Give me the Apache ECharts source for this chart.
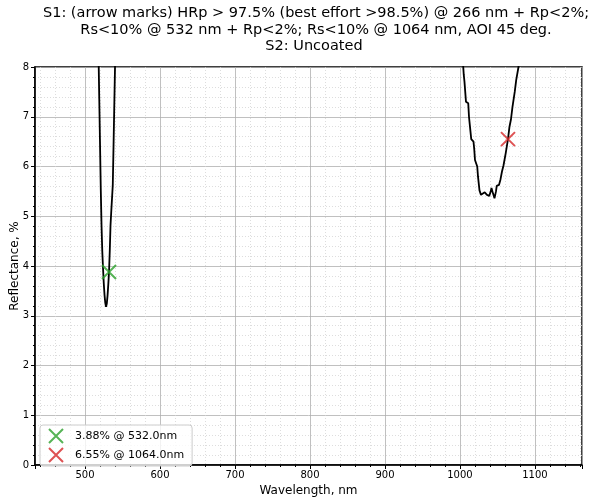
<!DOCTYPE html>
<html>
<head>
<meta charset="utf-8">
<script src="https://cdn.jsdelivr.net/npm/echarts@6/dist/echarts.min.js"></script>
<style>
  html, body { margin: 0; padding: 0; background: #fff; }
  #chart { width: 592px; height: 500px; }
</style>
</head>
<body>
<div id="chart"></div>
<script>
// wavelength (nm) / reflectance (%); values above 8 run off the top
const wavelength = [
  440, 480, 510, 515, 516, 517, 518, 519, 520, 521, 522, 523, 524, 525, 526, 527, 528,
  529, 530, 531, 532, 533, 534, 535, 536, 537, 538, 539, 540, 541, 542, 600, 800, 980,
  1000, 1002, 1004, 1005, 1006, 1008, 1011, 1012, 1014, 1015, 1018, 1019, 1020, 1022,
  1023, 1024, 1025, 1026, 1028, 1030, 1033, 1036, 1039, 1041, 1042, 1044, 1046, 1047,
  1048, 1049, 1052, 1054, 1056, 1058, 1061, 1064, 1066, 1068, 1070, 1073, 1075, 1078,
  1080, 1083, 1100, 1160,
];
const reflectance = [
  22, 18, 14, 10.5, 9.7, 8.9, 8.25, 7.35, 6.45, 5.55, 4.82, 4.3, 3.96, 3.65, 3.42, 3.26, 3.18,
  3.24, 3.4, 3.62, 3.88, 4.3, 4.82, 5.1, 5.36, 5.62, 6.4, 7.2, 8.0, 8.8, 9.6, 25, 40, 14,
  9.0, 8.5, 8.08, 7.85, 7.7, 7.3, 7.27, 7.0, 6.7, 6.55, 6.5, 6.35, 6.13, 6.1,
  6.0, 5.8, 5.66, 5.52, 5.43, 5.41, 5.48, 5.43, 5.41, 5.5, 5.57, 5.46, 5.36, 5.34,
  5.5, 5.61, 5.63, 5.74, 5.9, 6.02, 6.27, 6.55, 6.8, 6.95, 7.2, 7.5, 7.74, 8.0,
  8.4, 8.9, 15, 25,
];

const markLabels = ['3.88% @ 532.0nm', '6.55% @ 1064.0nm'];
const markX = [532, 1064];
const markY = [3.88, 6.55];
const markColors = ['#2ca02c', '#d62728'];

const titleLines = [
  'S1: (arrow marks) HRp > 97.5% (best effort >98.5%) @ 266 nm + Rp<2%;',
  'Rs<10% @ 532 nm + Rp<2%; Rs<10% @ 1064 nm, AOI 45 deg.',
];
const subTitle = 'S2: Uncoated';

const FONT = 'DejaVu Sans';
const crossIcon = 'path://M0,0L10,10M10,0L0,10';

const chart = echarts.init(document.getElementById('chart'));

const markSeries = markLabels.map((name, i) => ({
  name,
  type: 'scatter',
  data: [[markX[i], markY[i]]],
  symbol: crossIcon,
  symbolSize: 14,
  itemStyle: {
    color: 'transparent',
    borderColor: markColors[i],
    borderWidth: 2,
  },
  emphasis: { disabled: true },
  z: 5,
}));

const titleStyle = { fontFamily: FONT, fontSize: 14.5, fontWeight: 'normal', color: '#000', lineHeight: 17 };

const option = {
  animation: false,
  textStyle: { fontFamily: FONT },
  title: [
    { text: titleLines.join('\n'), left: 311, textAlign: 'center', top: 0, textStyle: titleStyle },
    { text: subTitle, left: 309, textAlign: 'center', top: 33, textStyle: titleStyle },
  ],
  grid: {
    left: 35,
    top: 67,
    width: 547,
    height: 398,
    outerBoundsMode: 'none',
    containLabel: false,
    show: true,
    borderColor: '#000',
    borderWidth: 1.5,
    backgroundColor: 'transparent',
  },
  legend: {
    orient: 'vertical',
    left: 40,
    top: 425,
    padding: [3, 8, 3, 8],
    itemGap: 3,
    itemWidth: 16,
    itemHeight: 14,
    borderColor: '#cccccc',
    borderWidth: 1,
    borderRadius: 3,
    backgroundColor: 'rgba(255,255,255,0.8)',
    textStyle: { fontFamily: FONT, fontSize: 11, color: '#000', padding: [0, 0, 0, 6] },
    data: markLabels.map((name, i) => ({
      name,
      icon: crossIcon,
      itemStyle: { color: 'transparent', borderColor: markColors[i], borderWidth: 2 },
    })),
  },
  xAxis: {
    type: 'value',
    min: 433.3,
    max: 1162.7,
    splitNumber: 7,
    name: 'Wavelength, nm',
    nameLocation: 'middle',
    nameGap: 20,
    nameMoveOverlap: false,
    nameTextStyle: { fontFamily: FONT, fontSize: 12, color: '#000' },
    axisLine: { show: true, onZero: false, lineStyle: { color: '#000', width: 1.5 } },
    axisTick: { show: true, length: 4, lineStyle: { color: '#000' } },
    minorTick: { show: true, splitNumber: 5, length: 2, lineStyle: { color: '#000' } },
    axisLabel: {
      fontFamily: FONT,
      fontSize: 10,
      color: '#000',
      margin: 5,
      showMinLabel: false,
      showMaxLabel: false,
      formatter: (v) => (v % 100 === 0 ? String(v) : ''),
    },
    splitLine: { show: true, lineStyle: { color: '#b0b0b0', width: 0.8 } },
    minorSplitLine: { show: true, lineStyle: { color: '#d4d4d4', width: 0.8, type: [1, 2] } },
  },
  yAxis: {
    type: 'value',
    min: 0,
    max: 8,
    interval: 1,
    name: 'Reflectance, %',
    nameLocation: 'middle',
    nameGap: 14,
    nameMoveOverlap: false,
    nameTextStyle: { fontFamily: FONT, fontSize: 12, color: '#000' },
    axisLine: { show: true, lineStyle: { color: '#000', width: 1.5 } },
    axisTick: { show: true, length: 4, lineStyle: { color: '#000' } },
    minorTick: { show: true, splitNumber: 5, length: 2, lineStyle: { color: '#000' } },
    axisLabel: { fontFamily: FONT, fontSize: 10, color: '#000', margin: 6 },
    splitLine: { show: true, lineStyle: { color: '#b0b0b0', width: 0.8 } },
    minorSplitLine: { show: true, lineStyle: { color: '#d4d4d4', width: 0.8, type: [1, 2] } },
  },
  series: [
    {
      name: 'S1',
      type: 'line',
      data: wavelength.map((w, i) => [w, reflectance[i]]),
      symbol: 'none',
      clip: true,
      lineStyle: { color: '#000', width: 1.8 },
      emphasis: { disabled: true },
      z: 3,
    },
    ...markSeries,
  ],
};

chart.setOption(option);
</script>
</body>
</html>
